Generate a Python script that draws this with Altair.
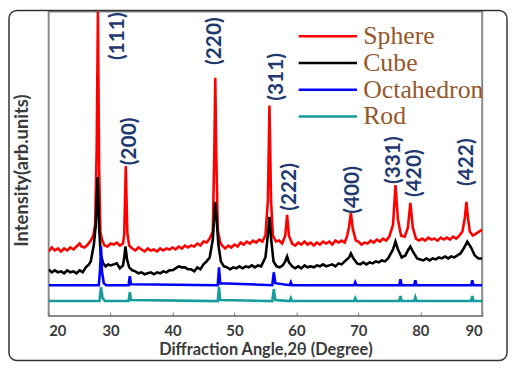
import altair as alt
import pandas as pd

# ---- data (arbitrary intensity units) ----
sphere_x = [20.0, 20.5, 21.0, 21.5, 22.0, 22.5, 23.0, 23.5, 24.0, 24.5, 25.0, 25.3, 25.8, 26.3, 26.8, 27.2, 27.5, 27.75, 27.95, 28.15, 28.35, 28.6, 29.0, 29.5, 30.0, 30.5, 31.0, 31.5, 32.0, 32.2, 32.45, 32.7, 33.0, 33.5, 34.0, 34.5, 35.0, 35.5, 36.0, 36.5, 37.0, 37.5, 38.0, 38.5, 39.0, 39.5, 40.0, 40.5, 41.0, 41.5, 42.0, 42.5, 43.0, 43.5, 44.0, 44.5, 45.0, 45.5, 46.0, 46.5, 46.75, 46.9, 47.05, 47.3, 47.7, 48.0, 48.5, 49.0, 49.5, 50.0, 50.5, 51.0, 51.5, 52.0, 52.5, 53.0, 53.5, 54.0, 54.5, 55.0, 55.4, 55.65, 55.9, 56.2, 56.7, 57.2, 57.7, 58.2, 58.5, 58.8, 59.3, 59.8, 60.3, 60.8, 61.3, 61.8, 62.3, 62.8, 63.3, 63.8, 64.3, 64.8, 65.3, 65.8, 66.3, 66.8, 67.3, 67.8, 68.2, 68.5, 68.8, 69.1, 69.6, 70.0, 70.5, 71.0, 71.5, 72.0, 72.5, 73.0, 73.5, 74.0, 74.5, 75.0, 75.6, 76.0, 76.4, 76.9, 77.5, 78.0, 78.4, 78.8, 79.3, 79.8, 80.3, 80.8, 81.3, 81.8, 82.3, 82.8, 83.3, 83.8, 84.3, 84.8, 85.3, 85.8, 86.3, 86.8, 87.2, 87.45, 87.7, 88.0, 88.5, 89.0, 89.5, 90.0]
sphere_y = [65, 69, 66, 68, 65, 68, 66, 69, 67, 70, 73, 70, 69, 72, 76, 81, 92, 167, 307, 147, 85, 77, 71, 70, 73, 72, 74, 71, 73, 82, 151, 84, 71, 68, 66, 69, 67, 65, 68, 66, 67, 65, 68, 66, 68, 67, 69, 67, 70, 68, 71, 69, 71, 70, 73, 71, 75, 74, 78, 85, 167, 240, 167, 87, 74, 71, 68, 71, 69, 72, 70, 74, 72, 75, 73, 76, 74, 77, 75, 81, 117, 212, 117, 81, 75, 76, 73, 81, 102, 81, 73, 71, 74, 72, 75, 72, 74, 71, 74, 72, 75, 73, 75, 72, 76, 74, 76, 74, 81, 90, 104, 88, 76, 75, 72, 74, 73, 76, 74, 77, 75, 78, 76, 80, 92, 132, 97, 81, 80, 89, 114, 89, 78, 76, 78, 76, 79, 77, 78, 76, 79, 77, 79, 77, 80, 78, 81, 85, 99, 115, 99, 85, 81, 83, 85, 87]

cube_x = [20.0, 20.5, 21.0, 21.5, 22.0, 22.5, 23.0, 23.5, 24.0, 24.5, 25.0, 25.5, 26.0, 26.5, 26.8, 27.3, 27.6, 27.9, 28.15, 28.4, 28.8, 29.2, 29.6, 30.0, 30.5, 31.0, 31.5, 32.0, 32.2, 32.4, 32.65, 33.0, 33.5, 34.0, 34.5, 35.0, 35.5, 36.0, 36.5, 37.0, 37.5, 38.0, 38.5, 39.0, 39.5, 40.0, 40.5, 41.0, 41.5, 42.0, 42.5, 43.0, 43.5, 44.0, 44.5, 45.0, 45.5, 46.0, 46.5, 46.75, 46.9, 47.1, 47.4, 47.8, 48.3, 48.8, 49.3, 49.8, 50.3, 50.8, 51.3, 51.8, 52.3, 52.8, 53.3, 53.8, 54.3, 55.0, 55.4, 55.65, 55.9, 56.3, 56.8, 57.3, 57.8, 58.2, 58.5, 58.8, 59.3, 59.8, 60.3, 60.8, 61.3, 61.8, 62.3, 62.8, 63.3, 63.8, 64.3, 64.8, 65.3, 65.8, 66.3, 66.8, 67.3, 67.8, 68.5, 68.8, 69.2, 69.8, 70.3, 70.8, 71.3, 71.8, 72.3, 72.8, 73.3, 73.8, 74.3, 74.8, 75.6, 76.0, 76.4, 77.0, 77.6, 78.0, 78.4, 78.8, 79.5, 80.0, 80.5, 81.0, 81.5, 82.0, 82.5, 83.0, 83.5, 84.0, 84.5, 85.0, 85.5, 86.0, 86.5, 87.0, 87.6, 88.2, 88.8, 89.4, 90.0]
cube_y = [47, 44, 46, 44, 45, 43, 46, 44, 45, 43, 46, 44, 49, 52, 55, 72, 91, 140, 89, 62, 53, 50, 52, 51, 52, 53, 48, 51, 59, 70, 57, 49, 46, 45, 43, 44, 42, 43, 44, 42, 44, 43, 45, 44, 46, 46, 48, 50, 49, 49, 47, 47, 45, 49, 47, 52, 55, 59, 77, 102, 115, 99, 72, 55, 50, 49, 47, 49, 48, 50, 48, 50, 49, 51, 49, 51, 50, 59, 82, 100, 79, 55, 50, 49, 51, 55, 60, 54, 50, 48, 50, 48, 51, 49, 50, 49, 51, 50, 52, 50, 51, 52, 50, 53, 52, 55, 59, 63, 58, 53, 52, 54, 52, 54, 53, 55, 54, 56, 55, 58, 67, 75, 67, 59, 61, 66, 70, 65, 58, 57, 56, 58, 56, 58, 57, 59, 58, 60, 58, 60, 59, 61, 63, 68, 75, 69, 61, 58, 58]

octa_x = [20.0, 28.1, 28.3, 28.45, 28.6, 28.9, 29.3, 32.9, 33.1, 33.3, 47.3, 47.5, 47.7, 56.1, 56.35, 56.6, 58.9, 59.1, 59.3, 69.3, 69.5, 69.7, 76.6, 76.8, 77.0, 79.0, 79.2, 79.4, 88.2, 88.4, 88.6, 90.0]
octa_y = [31, 31, 47, 70, 45, 33, 31, 31, 40, 32, 31, 49, 33, 31, 44, 33, 31, 34, 31, 31, 34, 31, 31, 37, 31, 31, 36, 31, 31, 36, 31, 31]

rod_x = [20.0, 28.2, 28.45, 28.7, 29.1, 32.9, 33.1, 33.3, 47.3, 47.5, 47.7, 56.1, 56.35, 56.6, 58.9, 59.1, 59.3, 69.3, 69.5, 69.7, 76.6, 76.8, 77.0, 79.0, 79.2, 79.4, 88.2, 88.4, 88.6, 90.0]
rod_y = [15, 15, 29, 18, 15, 15, 24, 16, 15, 29, 16, 15, 27, 16, 15, 18, 15, 15, 18, 15, 15, 20, 15, 15, 19, 15, 15, 20, 15, 15]

series_names = ["Sphere", "Cube", "Octahedron", "Rod"]
series_colors = ["#FF0000", "#000000", "#0000FF", "#169C9C"]
series_widths = [2.6, 2.6, 2.0, 2.0]

peak_labels = ["(111)", "(200)", "(220)", "(311)", "(222)", "(400)", "(331)", "(420)", "(422)"]
peak_label_x = [31.2, 33.2, 46.9, 56.9, 58.9, 69.2, 75.8, 79.1, 87.6]
peak_label_y = [282, 176, 277, 241, 130, 127, 157, 144, 155]

x_ticks = [20, 25, 30, 35, 40, 45, 50, 55, 60, 65, 70, 75, 80, 85, 90]

# ---- build tables ----
rows = []
for name, xs, ys in zip(series_names, [sphere_x, cube_x, octa_x, rod_x], [sphere_y, cube_y, octa_y, rod_y]):
    for i, (a, b) in enumerate(zip(xs, ys)):
        rows.append({"angle": a, "intensity": b, "sample": name, "i": i})
df = pd.DataFrame(rows)
labels_df = pd.DataFrame({"label": peak_labels, "angle": peak_label_x, "intensity": peak_label_y})

W, H = 437, 307

xscale = alt.Scale(domain=[20, 90], nice=False)
yscale = alt.Scale(domain=[0, 307], nice=False)

lines = alt.Chart(df).mark_line(clip=True).encode(
    x=alt.X("angle:Q", scale=xscale,
            axis=alt.Axis(title="Diffraction Angle,2θ (Degree)", values=x_ticks,
                          labelExpr="datum.value % 10 == 0 ? datum.label : ''",
                          grid=False, domain=False, offset=-4, tickSize=4, tickColor="#777",
                          labelPadding=8, labelFont="Lato", labelFontSize=15, labelFontWeight="bold",
                          labelColor="#3a3a3a", titleFont="Lato", titleFontSize=16.5,
                          titleFontWeight="bold", titleColor="#3a3a3a", titlePadding=3)),
    y=alt.Y("intensity:Q", scale=yscale,
            axis=alt.Axis(title="Intensity(arb.units)", labels=False, ticks=False, grid=False,
                          domain=False, titleFont="Lato", titleFontSize=18.5, titleFontWeight="bold",
                          titleColor="#3a3a3a", titlePadding=17, titleY=160)),
    color=alt.Color("sample:N", scale=alt.Scale(domain=series_names, range=series_colors),
                    legend=alt.Legend(title=None, orient="none", legendX=245, legendY=12,
                                      symbolType="M-1,0H8.8", symbolSize=144, symbolStrokeWidth=3,
                                      labelOffset=46, labelFont="Liberation Serif", labelFontSize=26,
                                      labelColor="#96582B", rowPadding=1)),
    strokeWidth=alt.StrokeWidth("sample:N", scale=alt.Scale(domain=series_names, range=series_widths),
                                legend=None),
    order=alt.Order("i:Q"),
    detail="sample:N",
)

texts = alt.Chart(labels_df).mark_text(angle=270, align="center", baseline="middle",
                                       font="Lato", fontSize=21, fontWeight="bold",
                                       color="#1F3A70").encode(
    x=alt.X("angle:Q", scale=xscale),
    y=alt.Y("intensity:Q", scale=yscale),
    text="label:N",
)

frame = alt.Chart(pd.DataFrame({"k": [0]})).mark_rect(
    fill=None, stroke="#333333", strokeWidth=1.5, cornerRadius=8, clip=False
).encode(x=alt.value(-40), x2=alt.value(462), y=alt.value(-1), y2=alt.value(352))

chart = alt.layer(lines, texts, frame).properties(
    width=W, height=H,
    autosize=alt.AutoSizeParams(type="none"),
    padding={"left": 41, "top": 2, "right": 26, "bottom": 46},
).configure_view(stroke="#8a8a8a", strokeWidth=2)

chart.save("out.html", embed_options={"renderer": "svg", "actions": False})
